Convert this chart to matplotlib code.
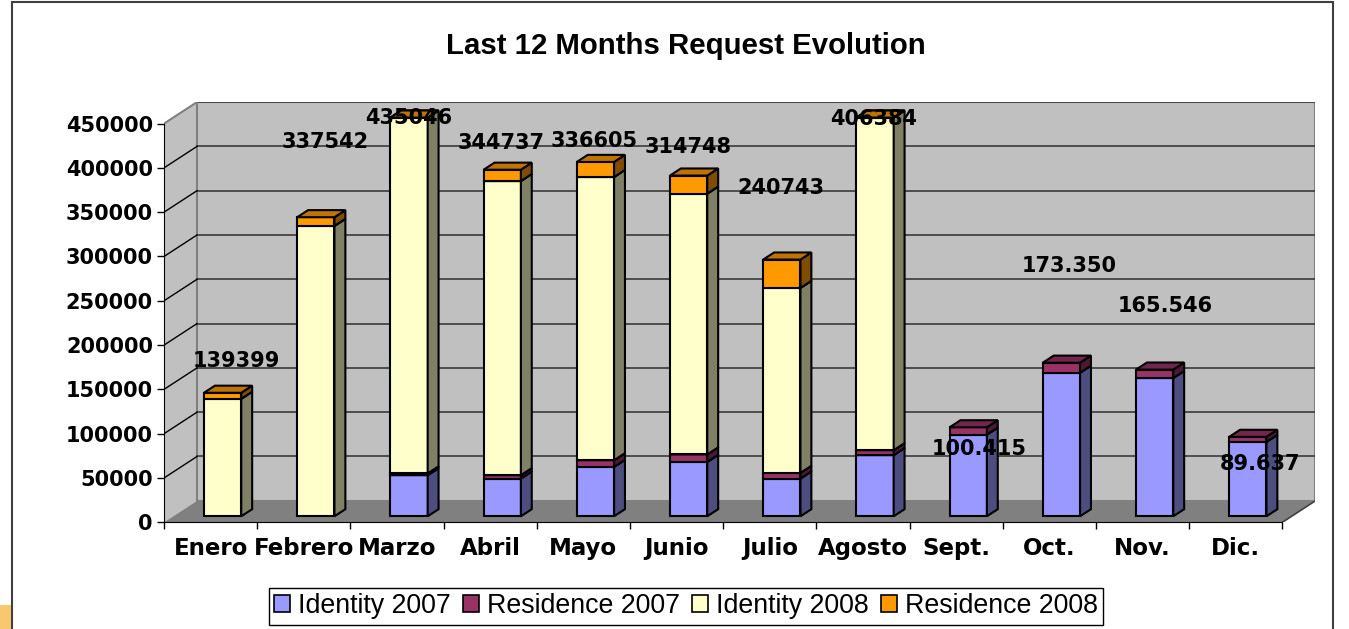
import matplotlib
matplotlib.use("Agg")
import matplotlib.pyplot as plt
from matplotlib.patches import Polygon, Rectangle, Patch

# ---------------- data ----------------
months = ['Enero', 'Febrero', 'Marzo', 'Abril', 'Mayo', 'Junio', 'Julio',
          'Agosto', 'Sept.', 'Oct.', 'Nov.', 'Dic.']
identity_2007 = [0, 0, 46400, 42600, 55700, 61400, 42600, 69000, 92115, 162050, 156046, 83937]
residence_2007 = [0, 0, 2000, 3800, 7600, 8400, 6400, 5600, 8300, 11300, 9500, 5700]
identity_2008 = [132599, 327742, 425046, 331937, 319605, 294348, 208743, 398384, 0, 0, 0, 0]
residence_2008 = [6800, 9800, 10000, 12800, 17000, 20400, 32000, 8000, 0, 0, 0, 0]
label_text = ['139399', '337542', '435046', '344737', '336605', '314748', '240743',
              '406384', '100.415', '173.350', '165.546', '89.637']
series_names = ['Identity 2007', 'Residence 2007', 'Identity 2008', 'Residence 2008']
y_ticks = [0, 50000, 100000, 150000, 200000, 250000, 300000, 350000, 400000, 450000]

# ---------------- style / layout ----------------
W, H = 1349, 629
VMAX = 450000
PX_PER_UNIT_Y = 0.886 / 1000.0
PX_PER_CAT = 93.2
DX = 33 / PX_PER_CAT            # depth offset in category units
DY = 21.5 / PX_PER_UNIT_Y       # depth offset in value units
D0, D1 = 0.28, 0.61             # bar depth range (fraction of full depth)
BAR_OFF, BAR_W = 0.33, 0.40

faces = [  # front, top, side
    ('#9999FF', '#7373BF', '#4D4D80'),
    ('#993366', '#73264D', '#4D1A33'),
    ('#FFFFCC', '#BFBF99', '#808066'),
    ('#FF9900', '#BF7300', '#804D00'),
]
# label offsets in pixels (dx, dy up) relative to the value point on the bar front
label_offsets = [(14, 32), (9, 75), (0, 13), (-1, 68), (-1, 77), (-1, 90), (-1, 115),
                 (-1, 37), (11, -22), (8, 97), (11, 64), (12, -27)]

BOLD = dict(family='DejaVu Sans', weight='bold', size=15)
XBOLD = dict(family='DejaVu Sans', weight='bold', size=16.5)

fig = plt.figure(figsize=(W / 100, H / 100), dpi=100)
fig.patch.set_facecolor('white')

ax_left_px = 164
ax_bottom_px = 522.3
ax_w_px = (12 + DX) * PX_PER_CAT
ax_h_px = (VMAX + DY) * PX_PER_UNIT_Y
ax = fig.add_axes([ax_left_px / W, 1 - ax_bottom_px / H, ax_w_px / W, ax_h_px / H])
ax.set_xlim(0, 12 + DX)
ax.set_ylim(0, VMAX + DY)
ax.patch.set_visible(False)

# walls and floor
ax.add_patch(Polygon([(0, 0), (DX, DY), (DX, VMAX + DY), (0, VMAX)],
                     closed=True, facecolor='#C0C0C0', edgecolor='none', zorder=0))
ax.add_patch(Polygon([(DX, DY), (12 + DX, DY), (12 + DX, VMAX + DY), (DX, VMAX + DY)],
                     closed=True, facecolor='#C0C0C0', edgecolor='#808080', lw=1.5, zorder=0))
ax.add_patch(Polygon([(0, 0), (12, 0), (12 + DX, DY), (DX, DY)],
                     closed=True, facecolor='#808080', edgecolor='none', zorder=0.5))
ax.plot([12, 12 + DX], [0, DY], color='#404040', lw=1.2, zorder=0.6)
ax.plot([0, DX], [VMAX, VMAX + DY], color='#808080', lw=1.5, zorder=0.6)

# gridlines
for t in y_ticks[1:]:
    ax.plot([DX, 12 + DX], [t + DY, t + DY], color='#3a3a3a', lw=1.2, zorder=0.4)
for t in y_ticks[1:-1]:
    ax.plot([0, DX], [t, t + DY], color='black', lw=1.0, zorder=0.4)

# bars
series = [identity_2007, residence_2007, identity_2008, residence_2008]
for i in range(len(months)):
    base = 0.0
    x0 = i + BAR_OFF
    for s, vals in enumerate(series):
        v = vals[i]
        if v <= 0:
            continue
        y0 = min(base, VMAX)
        y1 = min(base + v, VMAX)
        base += v
        front, top, side = faces[s]
        fx = x0 + D0 * DX
        ax.bar(fx, y1 - y0, bottom=y0 + D0 * DY, width=BAR_W, align='edge',
               color=front, edgecolor='black', linewidth=1.5, zorder=3)
        sx = fx + BAR_W
        ax.add_patch(Polygon([(sx, y0 + D0 * DY), (x0 + BAR_W + D1 * DX, y0 + D1 * DY),
                              (x0 + BAR_W + D1 * DX, y1 + D1 * DY), (sx, y1 + D0 * DY)],
                             closed=True, facecolor=side, edgecolor='black', lw=1.5, zorder=3))
        ax.add_patch(Polygon([(fx, y1 + D0 * DY), (sx, y1 + D0 * DY),
                              (x0 + BAR_W + D1 * DX, y1 + D1 * DY), (x0 + D1 * DX, y1 + D1 * DY)],
                             closed=True, facecolor=top, edgecolor='black', lw=1.5, zorder=3))

# data labels
for i, txt in enumerate(label_text):
    v = int(txt.replace('.', ''))
    ax.annotate(txt, xy=(i + BAR_OFF + BAR_W / 2 + D0 * DX, v + D0 * DY),
                xytext=label_offsets[i], textcoords='offset pixels',
                ha='center', va='center', zorder=5, annotation_clip=False, **BOLD)

# axes
for sp in ['top', 'right']:
    ax.spines[sp].set_visible(False)
ax.spines['left'].set_bounds(0, VMAX)
ax.spines['bottom'].set_bounds(0, 12)
ax.spines['left'].set_zorder(2)
ax.spines['bottom'].set_zorder(2)
ax.set_yticks(y_ticks)
ax.set_yticklabels([str(t) for t in y_ticks], fontdict=BOLD)
ax.set_xticks(range(13))
ax.set_xticklabels([''] * 13)
ax.set_xticks([i + 0.5 for i in range(12)], minor=True)
ax.set_xticklabels(months, minor=True, fontdict=XBOLD)
ax.tick_params(axis='y', direction='out', length=5, width=1, pad=3)
ax.tick_params(axis='x', which='major', direction='out', length=5, width=1)
ax.tick_params(axis='x', which='minor', length=0, pad=10.5)

# title
fig.text(686 / W, 1 - 46 / H, 'Last 12 Months Request Evolution',
         ha='center', va='center', family='Liberation Sans', weight='bold', size=21.2)

# legend
handles = [Patch(facecolor=faces[k][0], edgecolor='black', linewidth=1.2) for k in range(4)]
leg = fig.legend(handles, series_names, ncol=4, loc='upper center',
                 bbox_to_anchor=(686 / W, 1 - 588 / H),
                 prop=dict(family='Liberation Sans', size=19.3),
                 frameon=True, fancybox=False, edgecolor='black', framealpha=1,
                 handlelength=0.6, handleheight=0.6, handletextpad=0.3,
                 columnspacing=0.45, borderpad=0.2, borderaxespad=0)
leg.get_frame().set_linewidth(1.0)

# chart area border and corner fragment
fig.add_artist(Rectangle((12 / W, -0.05), (1333 - 12) / W, 1.05 - 2 / H,
                         transform=fig.transFigure, fill=False,
                         edgecolor='#404040', lw=1.5))
fig.add_artist(Rectangle((0, 0), 11 / W, 24 / H, transform=fig.transFigure,
                         facecolor='#F8C870', edgecolor='none'))

fig.savefig('out.png', dpi=100)
